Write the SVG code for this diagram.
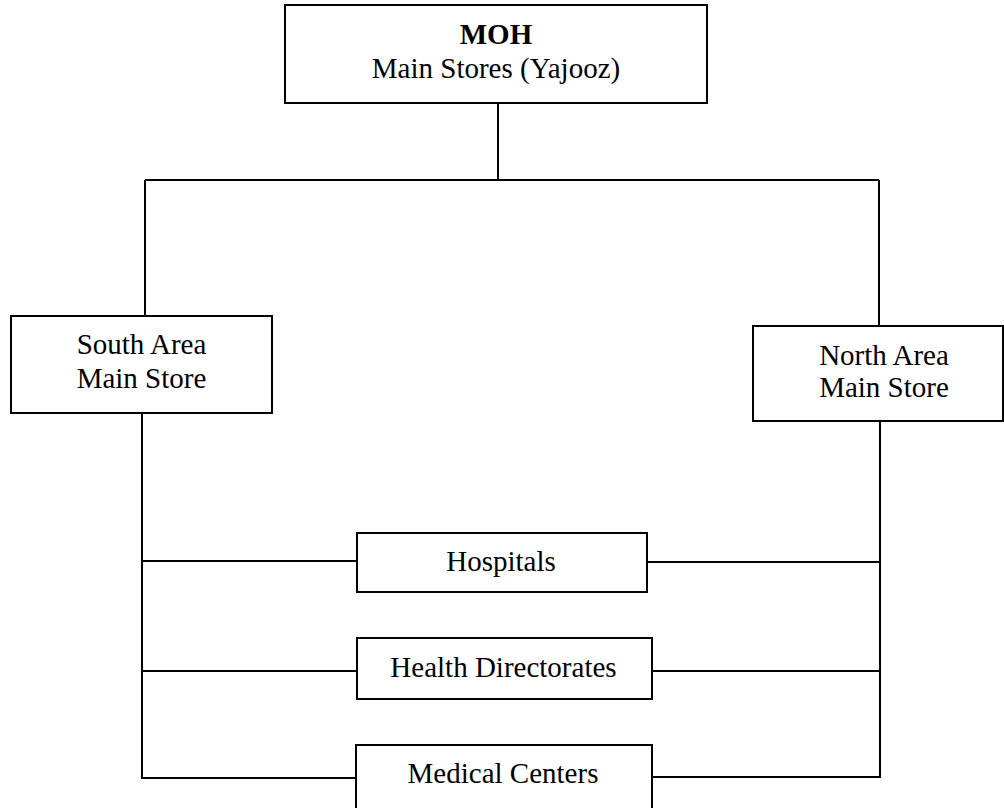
<svg xmlns="http://www.w3.org/2000/svg" width="1004" height="808" viewBox="0 0 1004 808">
<style>
.box{fill:#fff;stroke:#000;stroke-width:2}
.ln{fill:none;stroke:#000;stroke-width:2}
text{font-family:"Liberation Serif","Times New Roman",serif;font-size:29px;fill:#000;text-anchor:middle}
.b{font-weight:bold}
</style>
<rect width="1004" height="808" fill="#fff"/>
<g id="connectors">
<path class="ln" d="M498 103V180"/>
<path class="ln" d="M145 180H879"/>
<path class="ln" d="M145 180V316"/>
<path class="ln" d="M879 180V326"/>
<path class="ln" d="M142 413V778H356"/>
<path class="ln" d="M142 561H357"/>
<path class="ln" d="M142 671H357"/>
<path class="ln" d="M880 421V777H652"/>
<path class="ln" d="M880 562H647"/>
<path class="ln" d="M880 671H652"/>
</g>
<g id="moh">
<rect class="box" x="285" y="5" width="422" height="98"/>
<text class="b" x="496" y="44">MOH</text>
<text x="496" y="78">Main Stores (Yajooz)</text>
</g>
<g id="south">
<rect class="box" x="11" y="316" width="261" height="97"/>
<text x="141.5" y="354">South Area</text>
<text x="141.5" y="388">Main Store</text>
</g>
<g id="north">
<rect class="box" x="753" y="326" width="250" height="95"/>
<text x="884" y="365">North Area</text>
<text x="884" y="397">Main Store</text>
</g>
<g id="hospitals">
<rect class="box" x="357" y="533" width="290" height="59"/>
<text x="501" y="571">Hospitals</text>
</g>
<g id="directorates">
<rect class="box" x="357" y="638" width="295" height="61"/>
<text x="503.5" y="677">Health Directorates</text>
</g>
<g id="centers">
<rect class="box" x="356" y="745" width="296" height="70"/>
<text x="503" y="783">Medical Centers</text>
</g>
</svg>
